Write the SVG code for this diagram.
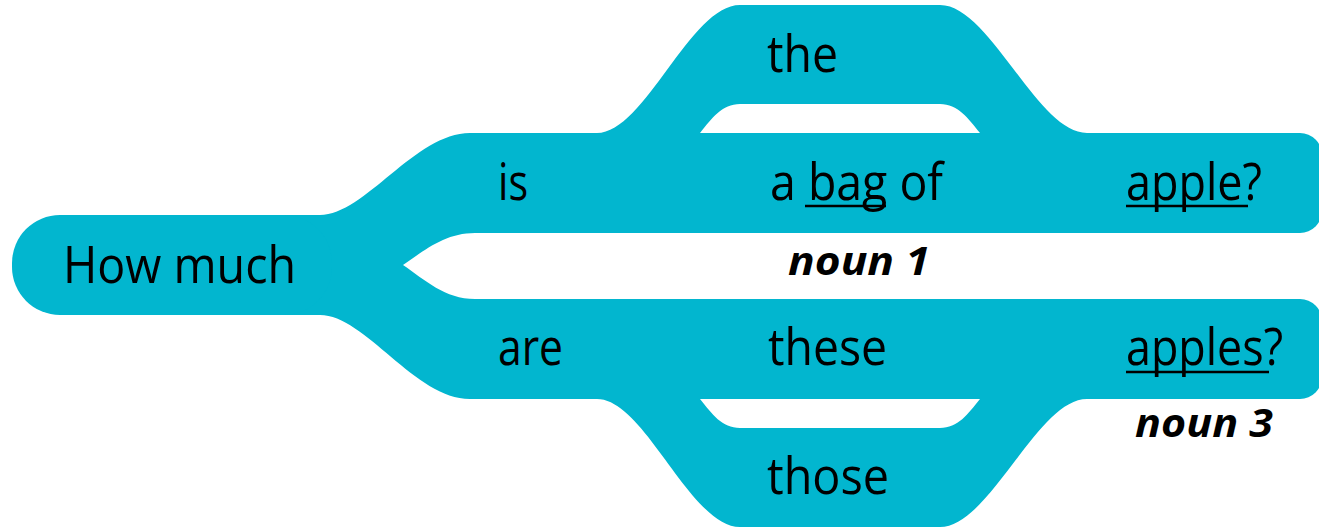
<svg xmlns="http://www.w3.org/2000/svg" width="1319" height="528" viewBox="0 0 1319 528">
  <style>
    .rib { fill: #02B6CF; stroke: none; }
    .w { font-family: "Open Sans", "Noto Sans", sans-serif; font-size: 52px; fill: #000; }
    .n { font-family: "Open Sans", "Noto Sans", sans-serif; font-size: 40px; font-weight: bold; font-style: italic; fill: #000; stroke: #fff; stroke-width: 5px; stroke-linejoin: round; paint-order: stroke fill; }
    .ul { stroke: #000; stroke-width: 2.5; }
  </style>
  <rect width="1319" height="528" fill="#fff"/>
  <g id="connectors">
    <path class="rib" d="M 260 215 L 320 215 C 365 215 415 133 470 133 L 480 133 L 480 233 L 475 233 C 445 233 425 250 403 265 C 425 280 445 299 475 299 L 480 299 L 480 399 L 470 399 C 415 399 365 315 320 315 L 260 315 Z"/>
    <path class="rib" d="M 597 170 L 597 133 C 645 133 690 5 740 5 L 940 5 C 990 5 1037 133 1087 133 L 1087 170 L 980 170 L 980 133 C 968 118 958 104 940 104 L 740 104 C 722 104 712 118 700 133 L 700 170 Z"/>
    <path class="rib" transform="matrix(1 0 0 -1 0 532)" d="M 597 170 L 597 133 C 645 133 690 5 740 5 L 940 5 C 990 5 1037 133 1087 133 L 1087 170 L 980 170 L 980 133 C 968 118 958 104 940 104 L 740 104 C 722 104 712 118 700 133 L 700 170 Z"/>
  </g>
  <g id="node-how-much">
    <rect class="rib" x="12" y="215" width="320" height="100" rx="48" ry="48"/>
    <text class="w" x="63" y="283" textLength="233" lengthAdjust="spacingAndGlyphs">How much</text>
  </g>
  <g id="band-upper">
    <path class="rib" d="M 470 133 L 1300 133 A 22 22 0 0 1 1322 155 L 1322 211 A 22 22 0 0 1 1300 233 L 470 233 Z"/>
  </g>
  <g id="band-lower">
    <path class="rib" d="M 470 299 L 1300 299 A 22 22 0 0 1 1322 321 L 1322 377 A 22 22 0 0 1 1300 399 L 470 399 Z"/>
  </g>
  <g id="node-is">
    <text class="w" x="498" y="200" textLength="30" lengthAdjust="spacingAndGlyphs">is</text>
  </g>
  <g id="node-the">
    <text class="w" x="767" y="72" textLength="71" lengthAdjust="spacingAndGlyphs">the</text>
  </g>
  <g id="node-a-bag-of">
    <text class="w" x="770" y="200" textLength="173" lengthAdjust="spacingAndGlyphs">a bag of</text>
    <line class="ul" x1="805" y1="206" x2="886" y2="206"/>
  </g>
  <g id="node-apple">
    <text class="w" x="1126" y="200" textLength="136" lengthAdjust="spacingAndGlyphs">apple?</text>
    <line class="ul" x1="1126" y1="206" x2="1248" y2="206"/>
  </g>
  <g id="node-are">
    <text class="w" x="498" y="365" textLength="65" lengthAdjust="spacingAndGlyphs">are</text>
  </g>
  <g id="node-these">
    <text class="w" x="768" y="365" textLength="119" lengthAdjust="spacingAndGlyphs">these</text>
  </g>
  <g id="node-apples">
    <text class="w" x="1126" y="365" textLength="157" lengthAdjust="spacingAndGlyphs">apples?</text>
    <line class="ul" x1="1126" y1="372" x2="1269" y2="372"/>
  </g>
  <g id="node-those">
    <text class="w" x="767" y="494" textLength="122" lengthAdjust="spacingAndGlyphs">those</text>
  </g>
  <g id="label-noun1">
    <text class="n" x="788" y="275" textLength="142" lengthAdjust="spacingAndGlyphs">noun 1</text>
  </g>
  <g id="label-noun3">
    <text class="n" x="1135" y="437" textLength="138" lengthAdjust="spacingAndGlyphs">noun 3</text>
  </g>
</svg>
